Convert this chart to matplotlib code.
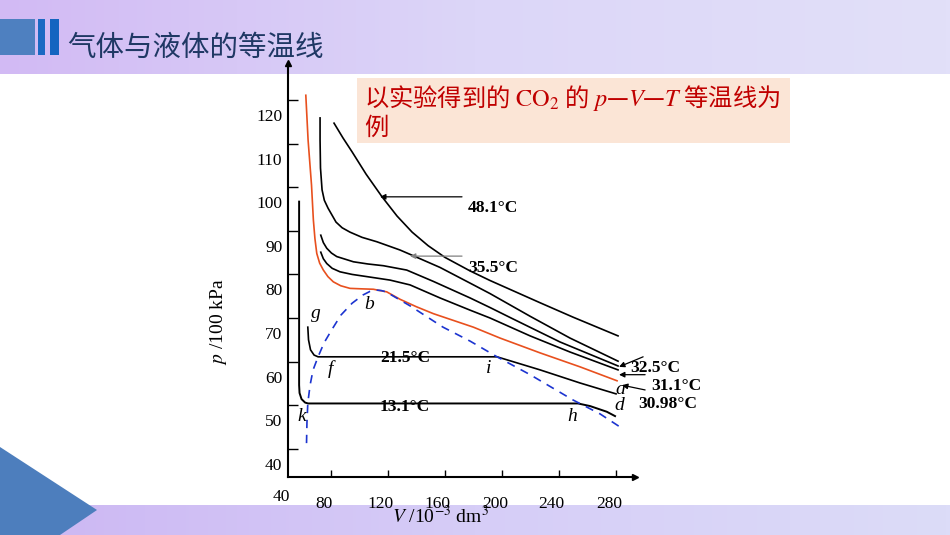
import numpy as np
import matplotlib
matplotlib.use("Agg")
import matplotlib.pyplot as plt
from matplotlib.colors import LinearSegmentedColormap
from matplotlib.patches import Rectangle, Polygon
from matplotlib.transforms import ScaledTranslation

plt.rcParams["font.family"] = ["Liberation Serif", "Noto Sans CJK SC"]
plt.rcParams["mathtext.fontset"] = "stix"

# CO2 isotherms, V in 10^-3 dm^3, p in 100 kPa
v_481 = [82.3, 88.6, 95.0, 104.8, 116.0, 126.5, 137.1, 148.3, 160.2, 177.8, 191.8, 226.9, 250.0, 281.6]
p_481 = [114.7, 111.3, 108.1, 103.0, 97.8, 93.4, 89.7, 86.6, 83.9, 80.8, 78.6, 73.5, 70.2, 65.9]

v_355 = [72.5, 72.5, 72.8, 73.9, 75.5, 78.1, 83.7, 88.0, 93.5, 102.0, 112.3, 128.6, 137.8, 156.7,
         177.8, 191.8, 219.9, 247.9, 281.6]
p_355 = [115.9, 110.8, 104.4, 99.4, 97.0, 95.2, 92.0, 90.7, 89.7, 88.5, 87.5, 85.6, 84.3, 81.6,
         78.0, 75.6, 70.4, 65.4, 60.1]

v_325 = [73.0, 74.8, 77.2, 80.5, 84.2, 95.9, 106.0, 116.9, 133.3, 152.0, 177.8, 191.8, 207.2, 240.9, 281.6]
p_325 = [89.0, 87.3, 86.0, 84.9, 84.1, 82.9, 82.4, 82.0, 81.0, 78.4, 74.6, 72.4, 69.9, 64.5, 59.0]

v_311 = [73.0, 74.8, 77.2, 81.0, 86.5, 95.0, 105.3, 121.6, 135.6, 156.7, 177.8, 191.8, 219.9, 247.9, 281.6]
p_311 = [85.1, 83.6, 82.5, 81.4, 80.6, 80.0, 79.5, 78.7, 77.6, 74.6, 71.8, 70.0, 65.9, 62.2, 58.1]

v_crit = [62.5, 64.1, 66.5, 67.8, 68.9, 70.2, 72.2, 74.8, 78.0, 81.8, 87.0, 93.5, 101.0, 109.9, 119.3,
          128.6, 140.0, 152.0, 180.1, 198.8, 226.9, 254.9, 280.9]
p_crit = [121.1, 110.8, 100.5, 92.5, 88.2, 84.8, 82.6, 81.0, 79.5, 78.3, 77.4, 76.8, 76.7, 76.6, 76.0,
          74.3, 72.6, 71.0, 67.9, 65.4, 62.0, 58.8, 55.6]

v_215 = [63.9, 64.4, 65.8, 68.3, 71.1, 196.7, 212.8, 226.9, 254.9, 280.2]
p_215 = [67.9, 65.0, 62.7, 61.5, 61.1, 61.1, 59.5, 58.1, 55.1, 52.6]

v_131 = [57.8, 57.8, 58.1, 59.5, 62.0, 64.1, 253.5, 262.0, 273.7, 279.5]
p_131 = [96.7, 54.6, 52.8, 51.4, 50.6, 50.4, 50.4, 49.8, 48.5, 47.5]

v_dome = [63.0, 63.3, 63.9, 65.5, 67.6, 71.1, 75.3, 80.7, 87.2, 95.0, 102.7, 107.5, 111.8, 115.5,
          118.8, 125.1, 135.6, 158.8, 177.8, 196.7, 219.9, 250.0, 269.0, 283.0]
p_dome = [41.3, 46.0, 50.5, 54.6, 58.1, 61.1, 64.3, 67.3, 70.7, 73.4, 75.3, 76.1, 76.4, 76.3,
          76.0, 74.8, 72.8, 67.9, 64.7, 61.1, 57.0, 51.2, 48.0, 45.0]

point_names = ["g", "b", "f", "i", "k", "h", "a", "d"]
point_v = [69.7, 106.9, 79.5, 191.1, 59.9, 249.3, 283.0, 282.3]
point_p = [71.1, 73.2, 58.3, 58.5, 47.3, 47.5, 53.7, 50.0]

temp_labels = ["48.1°C", "35.5°C", "21.5°C", "13.1°C", "32.5°C", "31.1°C", "30.98°C"]
temp_v = [193.9, 193.9, 132.1, 132.1, 307.6, 322.3, 316.7]
temp_p = [95.2, 81.5, 60.8, 49.6, 58.5, 54.4, 50.3]

# arrows: (tail V, tail p, head V, head p)
arrows = [(172.1, 97.8, 114.6, 97.8),
          (172.1, 84.2, 135.6, 84.2),
          (299.2, 61.1, 282.3, 58.8),
          (300.6, 57.0, 282.3, 57.0),
          (300.6, 53.5, 284.4, 54.6)]

y_ticks = [40, 50, 60, 70, 80, 90, 100, 110, 120]
x_ticks = [80, 120, 160, 200, 240, 280]

fig = plt.figure(figsize=(9.5, 5.35), dpi=100)

# slide background
bg = fig.add_axes([0, 0, 1, 1], zorder=0)
bg.set_xlim(0, 950)
bg.set_ylim(535, 0)
bg.axis("off")
grad = np.linspace(0, 1, 256).reshape(1, -1)
top_cmap = LinearSegmentedColormap.from_list("top", ["#d2baf4", "#dcd6f8", "#e2e0f9"])
bot_cmap = LinearSegmentedColormap.from_list("bot", ["#ccb6f3", "#d6cdf7", "#dcdcf8"])
bg.imshow(grad, cmap=top_cmap, extent=(0, 950, 74, 0), aspect="auto")
bg.imshow(grad, cmap=bot_cmap, extent=(0, 950, 535, 505), aspect="auto")
bg.add_patch(Polygon([(0, 447), (97, 510), (60, 535), (0, 535)], closed=True,
                     facecolor="#4d7ebd", edgecolor="none"))
bg.add_patch(Rectangle((0, 19), 35, 36, facecolor="#4e80c0", edgecolor="none"))
bg.add_patch(Rectangle((38, 19), 7, 36, facecolor="#1a69c3", edgecolor="none"))
bg.add_patch(Rectangle((50, 19), 9, 36, facecolor="#1565c0", edgecolor="none"))
bg.text(67, 48, "气体与液体的等温线", fontsize=20.5, color="#1f3864",
        family=["Noto Sans CJK SC", "DejaVu Sans"], va="center", ha="left")
bg.add_patch(Rectangle((357, 78), 433, 65, facecolor="#fbe5d6", edgecolor="none"))
bg.text(364, 98, "以实验得到的 $\\mathrm{CO}_2$ 的 $p$—$V$—$T$ 等温线为",
        fontsize=17.5, color="#c00000", family=["Noto Sans CJK SC", "DejaVu Sans"],
        va="center", ha="left")
bg.text(364, 128, "例", fontsize=17.5, color="#c00000",
        family=["Noto Sans CJK SC", "DejaVu Sans"], va="center", ha="left")

# chart
ax = fig.add_axes([288 / 950, 58 / 535, 347 / 950, 414 / 535], zorder=1)
ax.patch.set_visible(False)
ax.set_xlim(50, 293.5)
ax.set_ylim(33.53, 128.5)
for s in ["top", "right"]:
    ax.spines[s].set_visible(False)
for s in ["left", "bottom"]:
    ax.spines[s].set_linewidth(1.5)
ax.plot(1, 0, ">k", markersize=5, transform=ax.transAxes, clip_on=False)
ax.plot(0, 1, "^k", markersize=5, transform=ax.transAxes, clip_on=False)

lw = 1.2
ax.plot(v_481, p_481, color="black", lw=lw)
ax.plot(v_355, p_355, color="black", lw=lw)
ax.plot(v_325, p_325, color="black", lw=lw)
ax.plot(v_311, p_311, color="black", lw=lw)
ax.plot(v_crit, p_crit, color="#e8501e", lw=lw)
ax.plot(v_215, p_215, color="black", lw=lw)
ax.plot(v_131, p_131, color="black", lw=lw + 0.2)
ax.plot(v_dome, p_dome, color="#1c34d0", lw=1.2, dashes=(5, 4))

for name, v, p in zip(point_names, point_v, point_p):
    ax.text(v, p, name, fontsize=14, fontstyle="italic", ha="center", va="center")
for lab, v, p in zip(temp_labels, temp_v, temp_p):
    ax.text(v, p, lab, fontsize=12.5, fontweight="bold", ha="center", va="center")
for i, (v0, p0, v1, p1) in enumerate(arrows):
    col = "#808080" if i == 1 else "black"
    ax.annotate("", xy=(v1, p1), xytext=(v0, p0), annotation_clip=False,
                arrowprops=dict(arrowstyle="-|>", color=col, lw=0.9,
                                mutation_scale=8, shrinkA=0, shrinkB=0))

ax.set_yticks(y_ticks)
ax.set_xticks(x_ticks)
ax.tick_params(axis="y", direction="in", length=7, width=1, labelsize=12.5, pad=4)
ax.tick_params(axis="x", direction="in", length=5, width=1, labelsize=12.5, pad=14)
for lab in ax.get_yticklabels():
    lab.set_transform(lab.get_transform() + ScaledTranslation(0, -0.15, fig.dpi_scale_trans))
for lab in ax.get_xticklabels():
    lab.set_transform(lab.get_transform() + ScaledTranslation(-0.07, 0, fig.dpi_scale_trans))
ax.annotate("40", xy=(0, 0), xycoords="axes fraction", xytext=(-4.5, -14.5),
            textcoords="offset points", fontsize=12.5, ha="center", va="center")

ax.text(-0.2017, 0.374, "$p$ /100 kPa", transform=ax.transAxes, rotation=90,
        fontsize=14, ha="center", va="center")
ax.text(0.438, -0.094, "$V$ /10$^{-3}$ dm$^{3}$", transform=ax.transAxes,
        fontsize=14, ha="center", va="center")

fig.savefig("out.png", dpi=100)
